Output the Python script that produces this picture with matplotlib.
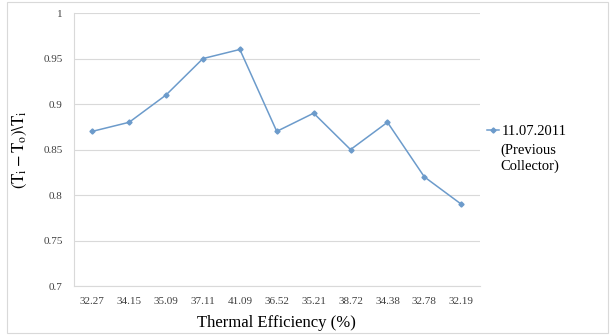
import matplotlib
matplotlib.use("Agg")
import matplotlib.pyplot as plt
from matplotlib.patches import Rectangle

efficiency = ["32.27", "34.15", "35.09", "37.11", "41.09", "36.52",
              "35.21", "38.72", "34.38", "32.78", "32.19"]
ratio = [0.87, 0.88, 0.91, 0.95, 0.96, 0.87, 0.89, 0.85, 0.88, 0.82, 0.79]
yticks = [0.7, 0.75, 0.8, 0.85, 0.9, 0.95, 1.0]
ytick_labels = ["0.7", "0.75", "0.8", "0.85", "0.9", "0.95", "1"]
series_label = "11.07.2011"
series_note = "(Previous\nCollector)"

plt.rcParams["font.family"] = ["Liberation Serif", "DejaVu Serif"]
plt.rcParams["mathtext.fontset"] = "stix"

fig = plt.figure(figsize=(6.15, 3.35), dpi=100)
fig.patches.append(Rectangle((0.012, 0.006), 0.976, 0.988, transform=fig.transFigure,
                             fill=False, ec="#d9d9d9", lw=0.8))
ax = fig.add_axes([0.120, 0.146, 0.660, 0.815])

x = list(range(len(efficiency)))
ax.plot(x, ratio, color="#6c9bcb", lw=1.1, marker="D", ms=2.6, label=series_label)

ax.set_xlim(-0.5, len(efficiency) - 0.5)
ax.set_ylim(0.7, 1.0)
ax.set_xticks(x)
ax.set_xticklabels(efficiency, fontsize=8, color="#404040")
ax.set_yticks(yticks)
ax.set_yticklabels(ytick_labels, fontsize=8, color="#404040")
ax.tick_params(length=0, pad=8)
ax.grid(axis="y", color="#d9d9d9", lw=0.8)
ax.set_axisbelow(True)
for s in ["top", "right"]:
    ax.spines[s].set_visible(False)
for s in ["left", "bottom"]:
    ax.spines[s].set_color("#d9d9d9")
    ax.spines[s].set_linewidth(0.8)

ax.set_xlabel("Thermal Efficiency (%)", fontsize=12, labelpad=6)
ax.set_ylabel(r"$(\mathrm{T_i} - \mathrm{T_o})\backslash\mathrm{T_i}$", fontsize=12, labelpad=10)

ax.legend(loc="center left", bbox_to_anchor=(1.0, 0.568), frameon=False,
          fontsize=10.5, handlelength=0.8, handletextpad=0.2, borderpad=0)
fig.text(0.813, 0.528, series_note, fontsize=10.5, ha="left", va="center",
         linespacing=1.2)

fig.savefig("out.png", dpi=100)
